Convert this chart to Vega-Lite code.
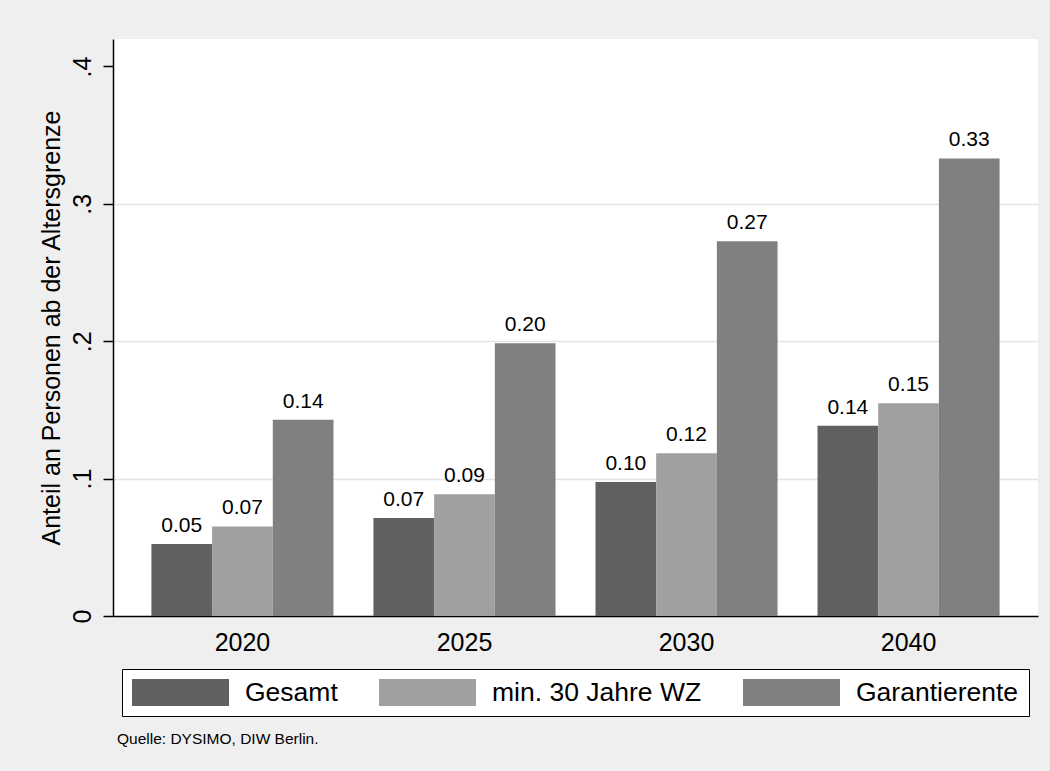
{
  "$schema": "https://vega.github.io/schema/vega-lite/v6.json",
  "autosize": "none",
  "width": 925,
  "height": 577,
  "padding": {"left": 113, "top": 39, "right": 12, "bottom": 155},
  "background": "#efefef",
  "config": {
    "view": {"fill": "white", "stroke": null},
    "font": "Liberation Sans"
  },
  "title": {
    "text": "Quelle: DYSIMO, DIW Berlin.",
    "orient": "bottom",
    "anchor": "start",
    "frame": "group",
    "fontSize": 15.5,
    "fontWeight": "normal",
    "color": "black",
    "offset": 15,
    "dx": 4
  },
  "data": {
    "values": [
      {"jahr": "2020", "gruppe": "Gesamt", "anteil": 0.0524},
      {"jahr": "2020", "gruppe": "min. 30 Jahre WZ", "anteil": 0.0652},
      {"jahr": "2020", "gruppe": "Garantierente", "anteil": 0.1428},
      {"jahr": "2025", "gruppe": "Gesamt", "anteil": 0.0713},
      {"jahr": "2025", "gruppe": "min. 30 Jahre WZ", "anteil": 0.0887},
      {"jahr": "2025", "gruppe": "Garantierente", "anteil": 0.1985},
      {"jahr": "2030", "gruppe": "Gesamt", "anteil": 0.0976},
      {"jahr": "2030", "gruppe": "min. 30 Jahre WZ", "anteil": 0.1184},
      {"jahr": "2030", "gruppe": "Garantierente", "anteil": 0.2727},
      {"jahr": "2040", "gruppe": "Gesamt", "anteil": 0.1384},
      {"jahr": "2040", "gruppe": "min. 30 Jahre WZ", "anteil": 0.1549},
      {"jahr": "2040", "gruppe": "Garantierente", "anteil": 0.3331}
    ]
  },
  "encoding": {
    "x": {
      "field": "jahr",
      "type": "nominal",
      "scale": {"paddingInner": 0.18, "paddingOuter": 0.173},
      "axis": {
        "title": null,
        "labelAngle": 0,
        "labelFontSize": 25,
        "labelColor": "black",
        "labelPadding": 14,
        "ticks": false,
        "tickSize": 0,
        "domainColor": "black",
        "domainWidth": 1.5,
        "grid": false
      }
    },
    "xOffset": {
      "field": "gruppe",
      "type": "nominal",
      "sort": ["Gesamt", "min. 30 Jahre WZ", "Garantierente"],
      "scale": {"paddingInner": 0, "paddingOuter": 0}
    },
    "y": {
      "field": "anteil",
      "type": "quantitative",
      "scale": {"domain": [0, 0.42], "nice": false, "zero": true},
      "axis": {
        "title": "Anteil an Personen ab der Altersgrenze",
        "titleFontSize": 25,
        "titleFontWeight": "normal",
        "titleColor": "black",
        "titlePadding": 6,
        "values": [0, 0.1, 0.2, 0.3, 0.4],
        "labelExpr": "datum.value == 0 ? '0' : replace(format(datum.value, '.1f'), '0.', '.')",
        "labelAngle": -90,
        "labelAlign": "center",
        "labelBaseline": "bottom",
        "labelFontSize": 25,
        "labelColor": "black",
        "labelPadding": 8,
        "tickSize": 10,
        "tickColor": "black",
        "tickWidth": 1.5,
        "domainColor": "black",
        "domainWidth": 1.5,
        "grid": true,
        "gridWidth": 1.5,
        "gridColor": {
          "condition": {"test": "datum.value >= 0.39 || datum.value == 0", "value": "transparent"},
          "value": "#e4e4e4"
        }
      }
    }
  },
  "layer": [
    {
      "mark": {"type": "bar"},
      "encoding": {
        "color": {
          "field": "gruppe",
          "type": "nominal",
          "sort": ["Gesamt", "min. 30 Jahre WZ", "Garantierente"],
          "scale": {
            "domain": ["Gesamt", "min. 30 Jahre WZ", "Garantierente"],
            "range": ["#606060", "#a0a0a0", "#808080"]
          },
          "legend": {
            "title": null,
            "orient": "none",
            "legendX": 9,
            "legendY": 630,
            "direction": "horizontal",
            "symbolType": "M-1,-0.2784H1V0.2784H-1Z",
            "symbolSize": 9409,
            "symbolStrokeWidth": 0,
            "symbolOpacity": 1,
            "labelFontSize": 26.5,
            "labelColor": "black",
            "labelOffset": 16,
            "labelLimit": 0,
            "columnPadding": 41,
            "padding": 10,
            "strokeColor": "black",
            "fillColor": "white",
            "clipHeight": 27
          }
        }
      }
    },
    {
      "mark": {"type": "text", "baseline": "alphabetic", "dy": -12, "fontSize": 21, "color": "black"},
      "encoding": {
        "text": {"field": "anteil", "type": "quantitative", "format": ".2f"}
      }
    }
  ]
}
